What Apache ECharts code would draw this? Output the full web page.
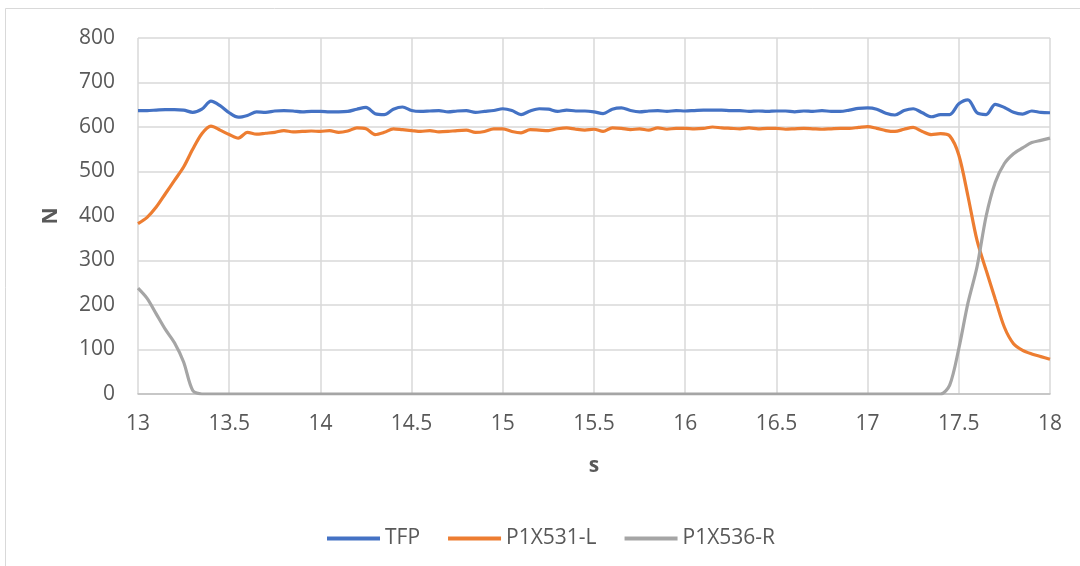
<!DOCTYPE html>
<html>
<head>
<meta charset="utf-8">
<script src="https://cdn.jsdelivr.net/npm/echarts@6/dist/echarts.min.js"></script>
<style>html,body{margin:0;padding:0;background:#fff}#c{width:1080px;height:566px}</style>
</head>
<body>
<div id="c"></div>
<script>
// time axis (s), step 0.05 from 13 to 18
const times = [];
for (let i = 0; i <= 100; i++) times.push(+(13 + i * 0.05).toFixed(2));

const seriesNames = ['TFP', 'P1X531-L', 'P1X536-R'];

const tfp = [
 637,637,638,639,639,638,633,640,658,648,
 632,622,626,634,633,636,637,636,634,635,
 635,634,634,635,640,644,630,628,640,645,
 637,635,636,637,634,636,637,633,635,637,
 641,637,628,636,641,640,635,638,636,636,
 634,630,640,643,637,634,636,637,635,637,
 636,637,638,638,638,637,637,635,636,635,
 636,636,634,636,635,637,635,635,638,642,
 643,640,631,627,637,641,632,623,628,628,
 652,661,632,628,651,644,633,629,636,633,
 632
];

const p531 = [
 383,397,420,450,480,510,550,585,602,593,
 583,575,588,584,586,588,592,589,590,591,
 590,592,588,591,598,596,583,588,596,594,
 592,590,592,589,590,592,593,588,590,596,
 596,590,587,594,593,592,596,598,595,593,
 595,590,598,597,594,596,593,598,595,597,
 597,596,597,600,598,597,596,598,596,597,
 597,595,596,597,596,595,596,597,597,599,
 601,597,592,590,595,599,590,583,585,580,
 537,445,345,278,213,150,113,98,90,84,
 78
];

const p536 = [
 238,215,180,145,115,72,8,0,0,0,
 0,0,0,0,0,0,0,0,0,0,
 0,0,0,0,0,0,0,0,0,0,
 0,0,0,0,0,0,0,0,0,0,
 0,0,0,0,0,0,0,0,0,0,
 0,0,0,0,0,0,0,0,0,0,
 0,0,0,0,0,0,0,0,0,0,
 0,0,0,0,0,0,0,0,0,0,
 0,0,0,0,0,0,0,0,0,20,
 102,204,286,400,476,518,540,553,565,570,
 575
];

const colors = ['#4472C4', '#ED7D31', '#A5A5A5'];
const values = [tfp, p531, p536];

const FONT = '"Open Sans", "Noto Sans", sans-serif';
const FS = 21;
const chart = echarts.init(document.getElementById('c'), null, {renderer: 'canvas'});
chart.setOption({
  animation: false,
  backgroundColor: '#fff',
  color: colors,
  graphic: [{
    type: 'rect', silent: true, z: -1,
    shape: {x: 5.5, y: 8.5, width: 1200, height: 700},
    style: {fill: 'none', stroke: '#d9d9d9', lineWidth: 1}
  }],
  grid: {left: 138, right: 30, top: 38, bottom: 172},
  legend: {
    data: seriesNames,
    left: 322, top: 523,
    icon: 'rect', itemWidth: 53, itemHeight: 4, itemGap: 28,
    textStyle: {fontFamily: FONT, fontSize: FS, color: '#595959', padding: [0,0,0,0]}
  },
  xAxis: {
    type: 'value', min: 13, max: 18, interval: 0.5,
    name: 's', nameLocation: 'middle', nameGap: 62,
    nameTextStyle: {fontFamily: FONT, fontSize: FS, fontWeight: 'bold', color: '#595959'},
    axisLine: {show: true, lineStyle: {color: '#bfbfbf', width: 1.5}},
    axisTick: {show: false},
    axisLabel: {fontFamily: FONT, fontSize: FS, color: '#595959', margin: 20},
    splitLine: {show: true, lineStyle: {color: '#d9d9d9', width: 1.5}}
  },
  yAxis: {
    type: 'value', min: 0, max: 800, interval: 100,
    name: 'N', nameLocation: 'middle', nameGap: 76,
    nameTextStyle: {fontFamily: FONT, fontSize: FS, fontWeight: 'bold', color: '#595959'},
    axisLine: {show: false},
    axisTick: {show: false},
    axisLabel: {fontFamily: FONT, fontSize: FS, color: '#595959', margin: 23},
    splitLine: {show: true, lineStyle: {color: '#d9d9d9', width: 1.5}}
  },
  series: seriesNames.map((n, k) => ({
    name: n, type: 'line', showSymbol: false, smooth: 0.3,
    lineStyle: {width: 3.2, color: colors[k]},
    itemStyle: {color: colors[k]},
    data: times.map((t, i) => [t, values[k][i]])
  }))
});
</script>
</body>
</html>
